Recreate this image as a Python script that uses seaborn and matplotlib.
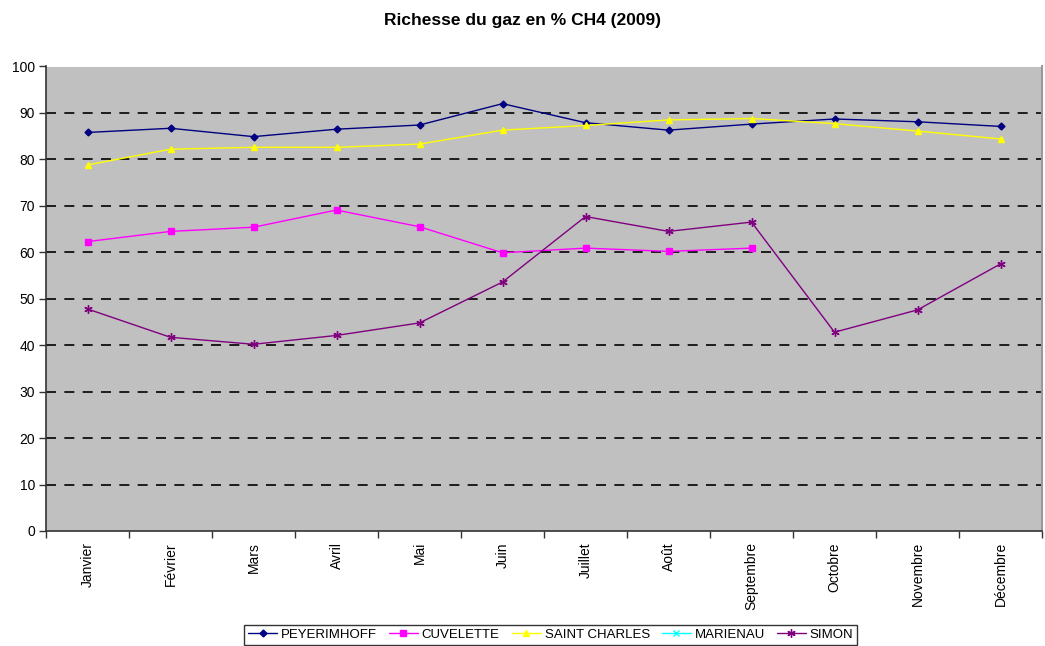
import numpy as np
import pandas as pd
import matplotlib
matplotlib.use("Agg")
import matplotlib.pyplot as plt
from matplotlib.lines import Line2D
from matplotlib.ticker import FixedLocator
import seaborn as sns

months = ["Janvier", "Février", "Mars", "Avril", "Mai", "Juin", "Juillet",
          "Août", "Septembre", "Octobre", "Novembre", "Décembre"]
peyerimhoff = [85.8, 86.7, 84.9, 86.5, 87.4, 92.0, 87.9, 86.3, 87.6, 88.7, 88.1, 87.1]
cuvelette = [62.3, 64.5, 65.4, 69.1, 65.5, 59.9, 60.9, 60.2, 60.9, np.nan, np.nan, np.nan]
saint_charles = [78.8, 82.2, 82.6, 82.6, 83.3, 86.3, 87.3, 88.5, 88.8, 87.7, 86.1, 84.4]
marienau = [np.nan] * 12
simon = [47.8, 41.7, 40.2, 42.1, 44.8, 53.6, 67.7, 64.5, 66.5, 42.8, 47.6, 57.5]
series_names = ["PEYERIMHOFF", "CUVELETTE", "SAINT CHARLES", "MARIENAU", "SIMON"]
series_values = [peyerimhoff, cuvelette, saint_charles, marienau, simon]
yticks = list(range(0, 101, 10))

colors = ["#000080", "#FF00FF", "#FFFF00", "#00FFFF", "#800080"]
markers = ["D", "s", "^", "x", (6, 2, 0)]
msizes = [3.5, 5, 5, 5, 6]

sns.set_style("white")
plt.rcParams["font.family"] = ["Liberation Sans", "DejaVu Sans"]
plt.rcParams["text.color"] = "black"
plt.rcParams["xtick.color"] = "black"
plt.rcParams["ytick.color"] = "black"

fig = plt.figure(figsize=(10.45, 6.46), dpi=100)
ax = fig.add_axes([46 / 1045, 1 - 531 / 646, (1042 - 46) / 1045, (531 - 66.5) / 646])
ax.set_facecolor("#C0C0C0")

x = np.arange(len(months))
handles = []
for name, vals, c, m, ms in zip(series_names, series_values, colors, markers, msizes):
    df = pd.DataFrame({"x": x, "y": vals}).dropna()
    if len(df):
        sns.lineplot(data=df, x="x", y="y", ax=ax, color=c, marker=m,
                     markersize=ms, markeredgecolor=c, markerfacecolor=c,
                     markeredgewidth=1.0, linewidth=1.0, legend=False)
    handles.append(Line2D([0], [0], color=c, marker=m, markersize=ms,
                          markeredgecolor=c, markerfacecolor=c, markeredgewidth=1.0,
                          linewidth=1.0, label=name))

ax.set_xlim(-0.5, len(months) - 0.5)
ax.set_ylim(0, 100)
ax.set_yticks(yticks)
ax.set_yticklabels([str(v) for v in yticks], fontsize=10)
ax.set_xticks(x)
ax.set_xticklabels(months, rotation=90, fontsize=10)
ax.xaxis.set_minor_locator(FixedLocator(np.arange(-0.5, len(months), 1.0)))
ax.tick_params(axis="x", which="major", length=0, pad=8)
ax.tick_params(axis="x", which="minor", length=5, width=1, color="#333333", direction="out", bottom=True)
ax.tick_params(axis="y", length=5, width=1, color="#333333", direction="out", left=True, pad=3)
ax.set_xlabel("")
ax.set_ylabel("")

for v in yticks[1:]:
    ax.axhline(v, color="#000000" if v < 100 else "#808080", linestyle=(0, (6, 5)),
               linewidth=1.2, zorder=0.5)

for s in ["left", "bottom"]:
    ax.spines[s].set_color("#333333")
    ax.spines[s].set_linewidth(1.2)
ax.spines["top"].set_visible(False)
ax.spines["right"].set_color("#999999")
ax.spines["right"].set_linewidth(1.5)

fig.text(0.5, 1 - 20 / 646, "Richesse du gaz en % CH4 (2009)", ha="center", va="center",
         fontsize=12.5, fontweight="bold", color="black")

leg = fig.legend(handles=handles, loc="lower center", ncol=5, bbox_to_anchor=(0.527, 0.0),
                 fontsize=9.5, frameon=True, fancybox=False, handlelength=2.2,
                 handletextpad=0.3, columnspacing=0.9, borderpad=0.3,
                 borderaxespad=0.1)
leg.get_frame().set_edgecolor("#000000")
leg.get_frame().set_linewidth(1.0)

fig.savefig("out.png", dpi=100, facecolor="white")
